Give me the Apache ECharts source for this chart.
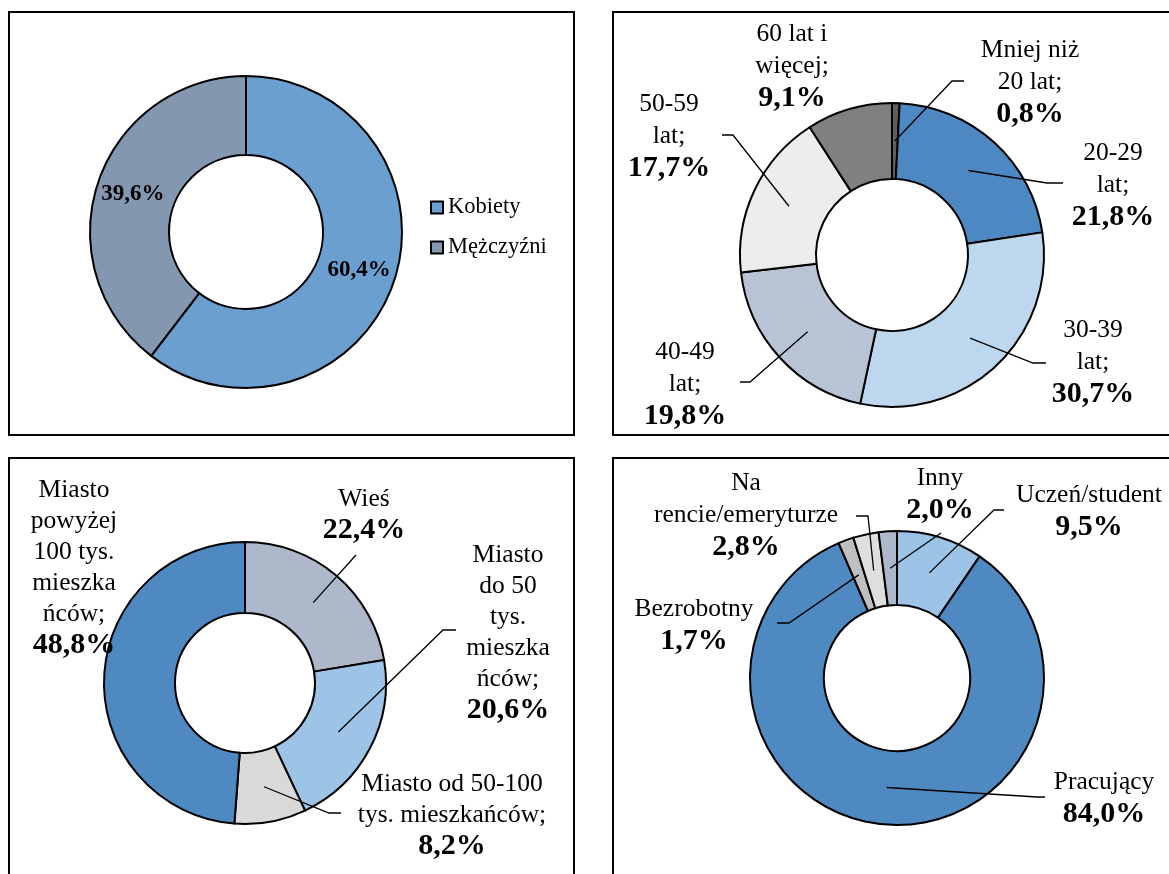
<!DOCTYPE html>
<html>
<head>
<meta charset="utf-8">
<script src="https://cdn.jsdelivr.net/npm/echarts@6/dist/echarts.min.js"></script>
<style>
  html, body { margin: 0; padding: 0; background: #fff; }
  #chart { width: 1169px; height: 874px; }
</style>
</head>
<body>
<div id="chart"></div>
<script>
// Płeć
const genderNames = ['Kobiety', 'Mężczyźni'];
const genderValues = [60.4, 39.6];

// Wiek (label lines split with \n)
const ageLabels = ['Mniej niż\n20 lat;', '20-29\nlat;', '30-39\nlat;', '40-49\nlat;', '50-59\nlat;', '60 lat i\nwięcej;'];
const ageValues = [0.8, 21.8, 30.7, 19.8, 17.7, 9.1];

// Miejsce zamieszkania
const placeLabels = ['Wieś', 'Miasto\ndo 50\ntys.\nmieszka\nńców;', 'Miasto od 50-100\ntys. mieszkańców;', 'Miasto\npowyżej\n100 tys.\nmieszka\nńców;'];
const placeValues = [22.4, 20.6, 8.2, 48.8];

// Status zawodowy
const statusLabels = ['Uczeń/student', 'Pracujący', 'Bezrobotny', 'Na\nrencie/emeryturze', 'Inny'];
const statusValues = [9.5, 84.0, 1.7, 2.8, 2.0];

// Slice colours
const genderColors = ['#6b9fcf', '#8497b0'];
const ageColors = ['#5f5f5f', '#4e88c2', '#bdd7ee', '#b8c4d6', '#ededed', '#808080'];
const placeColors = ['#adb9ca', '#9dc3e6', '#d9d9d9', '#4e89c2'];
const statusColors = ['#9dc3e6', '#4e89c2', '#bfbfbf', '#dedede', '#adb9ca'];

const FONT = '"Liberation Serif", "Times New Roman", serif';
const pct = v => v.toFixed(1).replace('.', ',') + '%';

// Point in the middle of the ring at a slice's mid angle (start at 12 o'clock, clockwise)
function ringPoint(values, i, center, radius) {
  const total = values.reduce((a, b) => a + b, 0);
  let before = 0;
  for (let k = 0; k < i; k++) before += values[k];
  const a = (before + values[i] / 2) / total * 2 * Math.PI;
  const r = (radius[0] + radius[1]) / 2;
  return [center[0] + r * Math.sin(a), center[1] - r * Math.cos(a)];
}

// Donut with callout labels placed beside it
function calloutPie(names, values, colors, center, radius, callouts, fs) {
  const rich = {
    n: { fontFamily: FONT, fontSize: fs.n, lineHeight: fs.lh, color: '#000', align: 'center' },
    v: { fontFamily: FONT, fontSize: fs.v, lineHeight: fs.lh, color: '#000', align: 'center', fontWeight: 'bold' }
  };
  return {
    type: 'pie',
    center: center,
    radius: radius,
    startAngle: 90,
    clockwise: true,
    avoidLabelOverlap: false,
    silent: true,
    itemStyle: { borderColor: '#000', borderWidth: 2 },
    label: {
      show: true,
      position: 'outside',
      formatter: p => p.name.split('\n').map(s => '{n|' + s + '}').join('\n') + '\n{v|' + pct(p.value) + '}',
      rich: rich
    },
    labelLine: { show: false },
    labelLayout: p => {
      const c = callouts[p.dataIndex];
      return { x: c.at[0], y: c.at[1], align: 'center', verticalAlign: 'middle' };
    },
    data: names.map((n, i) => ({ name: n, value: values[i], itemStyle: { color: colors[i] } }))
  };
}

// Leader lines drawn over the ring: from the slice's mid point to the label
function leaders(values, center, radius, callouts) {
  return callouts.map((c, i) => c.line ? {
    type: 'polyline', silent: true, z: 100,
    shape: { points: [ringPoint(values, i, center, radius)].concat(c.line) },
    style: { stroke: '#000', lineWidth: 1.3, fill: null }
  } : null).filter(Boolean);
}

const AGE_CENTER = [892, 255], AGE_RADIUS = [76, 152];
const PLACE_CENTER = [245, 683], PLACE_RADIUS = [70, 141];
const STATUS_CENTER = [897, 678], STATUS_RADIUS = [73, 147];

const ageCallouts = [
  { at: [1030, 82], line: [[952, 81], [964, 81]] },
  { at: [1113, 185], line: [[1047, 183], [1063, 183]] },
  { at: [1093, 362], line: [[1033, 363], [1046, 363]] },
  { at: [685, 384], line: [[750, 382], [740, 382]] },
  { at: [669, 136], line: [[733, 135], [722, 135]] },
  { at: [792, 66], line: null }
];
const placeCallouts = [
  { at: [364, 515], line: [[356, 555]] },
  { at: [508, 633], line: [[443, 630], [456, 630]] },
  { at: [452, 815], line: [[329, 813], [341, 813]] },
  { at: [74, 568], line: null }
];
const statusCallouts = [
  { at: [1089, 511], line: [[994, 510], [1004, 510]] },
  { at: [1104, 798], line: [[1037, 797], [1045, 797]] },
  { at: [694, 625], line: [[789, 623], [777, 623]] },
  { at: [746, 515], line: [[868, 516], [856, 516]] },
  { at: [940, 494], line: [[941, 533]] }
];

const frame = (x, y, w, h) => ({
  type: 'rect', silent: true, z: -10,
  shape: { x: x, y: y, width: w, height: h },
  style: { fill: 'none', stroke: '#000', lineWidth: 2 }
});

const chart = echarts.init(document.getElementById('chart'), null, { renderer: 'canvas' });
chart.setOption({
  animation: false,
  backgroundColor: '#fff',
  graphic: [
    frame(9, 12, 565, 423),
    frame(613, 12, 600, 423),
    frame(9, 458, 565, 500),
    frame(613, 458, 600, 500)
  ].concat(
    leaders(ageValues, AGE_CENTER, AGE_RADIUS, ageCallouts),
    leaders(placeValues, PLACE_CENTER, PLACE_RADIUS, placeCallouts),
    leaders(statusValues, STATUS_CENTER, STATUS_RADIUS, statusCallouts)
  ),
  legend: {
    data: genderNames,
    orient: 'vertical',
    left: 425,
    top: 191,
    icon: 'rect',
    itemWidth: 12,
    itemHeight: 12,
    itemGap: 17,
    selectedMode: false,
    itemStyle: { borderColor: '#000', borderWidth: 2 },
    textStyle: { fontFamily: FONT, fontSize: 22.5, color: '#000' }
  },
  series: [
    {
      type: 'pie',
      center: [246, 232],
      radius: [77, 156],
      startAngle: 90,
      clockwise: true,
      silent: true,
      itemStyle: { borderColor: '#000', borderWidth: 2 },
      label: {
        show: true,
        position: 'inside',
        formatter: p => pct(p.value),
        fontFamily: FONT,
        fontSize: 23,
        fontWeight: 'bold',
        color: '#000'
      },
      labelLine: { show: false },
      data: genderNames.map((n, i) => ({ name: n, value: genderValues[i], itemStyle: { color: genderColors[i] } }))
    },
    calloutPie(ageLabels, ageValues, ageColors, AGE_CENTER, AGE_RADIUS, ageCallouts, { n: 25.5, v: 30, lh: 32 }),
    calloutPie(placeLabels, placeValues, placeColors, PLACE_CENTER, PLACE_RADIUS, placeCallouts, { n: 25.5, v: 30, lh: 31 }),
    calloutPie(statusLabels, statusValues, statusColors, STATUS_CENTER, STATUS_RADIUS, statusCallouts, { n: 25.5, v: 30, lh: 32 })
  ]
});
</script>
</body>
</html>
